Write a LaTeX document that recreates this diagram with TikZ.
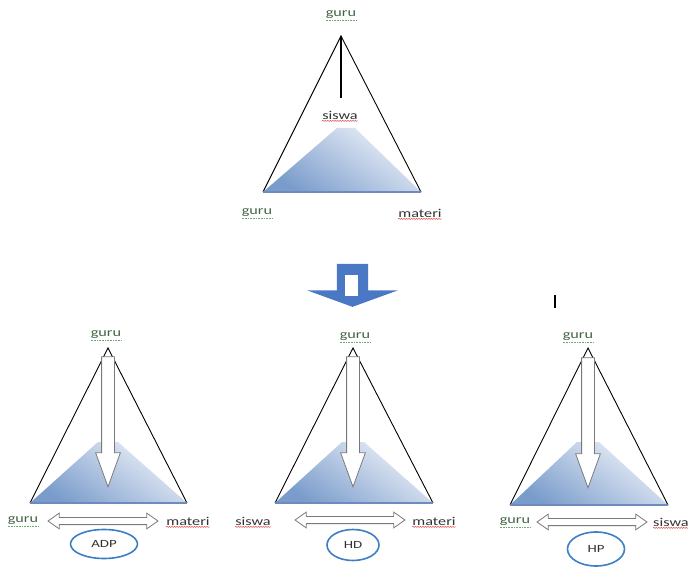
\documentclass[tikz,border=0pt]{standalone}
\usepackage{fontspec}
\usetikzlibrary{shapes.arrows,shapes.geometric,decorations.pathmorphing}
\newfontfamily\lblfont[FakeStretch=1.35]{Carlito}
\definecolor{txtgray}{HTML}{333333}
\definecolor{txtgreen}{HTML}{456546}
\definecolor{spellred}{HTML}{E05A5A}
\definecolor{spellgreen}{HTML}{6FA86F}
\definecolor{shadeblue}{HTML}{7A9CCB}
\definecolor{shadelight}{HTML}{EEF2F9}
\definecolor{baseblue}{HTML}{6D8BBC}
\definecolor{bigblue}{HTML}{4A78C4}
\definecolor{ringblue}{HTML}{3D7FC6}
\definecolor{hollowgray}{HTML}{7A7A7A}
\tikzset{
  lbl/.style={font=\lblfont\fontsize{12}{14}\selectfont, inner sep=0pt},
  gurulbl/.style={lbl, text=txtgreen},
  wordlbl/.style={lbl, text=txtgray},
  redline/.style={spellred, line width=0.6pt, decorate,
    decoration={snake, amplitude=0.5pt, segment length=2.5pt}},
  greenline/.style={spellgreen, line width=0.6pt, densely dotted},
  tri/.style={draw=black, line width=0.9pt, line join=miter},
  basebar/.style={draw=baseblue, line width=2pt},
  fade/.style={bottom color=shadeblue, top color=shadelight, shading angle=-35},
  downarrow/.style={single arrow, draw=hollowgray, fill=white, line width=0.8pt,
    rotate=-90, inner xsep=0pt, inner ysep=6pt, minimum width=24pt, minimum height=130pt,
    single arrow head extend=6pt, single arrow tip angle=40},
  twoway/.style={double arrow, draw=hollowgray, fill=white, line width=0.8pt,
    inner xsep=0pt, inner ysep=3.2pt, minimum width=15pt, minimum height=110pt,
    double arrow head extend=4.3pt, double arrow tip angle=70},
  ring/.style={ellipse, draw=ringblue, line width=1.6pt, text=txtgray,
    font=\lblfont\fontsize{11}{13}\selectfont, inner sep=0pt},
}
\begin{document}
\begin{tikzpicture}[x=1pt,y=-1pt]
\useasboundingbox (0,0) rectangle (688,569);
\fill[white] (0,0) rectangle (688,569);

% ---------- upper triangle ----------
\coordinate (tA) at (341,36);
\coordinate (tL) at (263,192);
\coordinate (tR) at (421,192);
\shade[fade] (337,128) -- (355,128) -- (tR) -- (tL) -- cycle;
\draw[tri] (tL) -- (tA) -- (tR);
\draw[basebar] (tL) -- (tR);
\node[gurulbl] (tguru) at (341,15) {guru};
\node[wordlbl] (tsiswa) at (340,115) {siswa};
\coordinate (tline) at (341,98);
\draw[black, line width=1.2pt] (tA) -- (tline);
\node[gurulbl] (tgl) at (257,213) {guru};
\node[wordlbl] (tmat) at (420,213) {materi};
\draw[greenline] ([yshift=-1.5pt]tguru.south west) -- ([yshift=-1.5pt]tguru.south east);
\draw[redline] ([yshift=-1.5pt]tsiswa.south west) -- ([yshift=-1.5pt]tsiswa.south east);
\draw[greenline] ([yshift=-1.5pt]tgl.south west) -- ([yshift=-1.5pt]tgl.south east);
\draw[redline] ([yshift=-1.5pt]tmat.south west) -- ([yshift=-1.5pt]tmat.south east);

% ---------- big blue arrow ----------
\node[single arrow, fill=bigblue, rotate=-90, inner xsep=0pt, inner ysep=15.5pt,
  minimum width=90pt, minimum height=43pt, single arrow head extend=29.5pt,
  single arrow tip angle=140] (blue) at (352.5,282.5) {};
\node[fill=white, minimum width=13pt, minimum height=21pt, inner sep=0pt] (slot) at (351.5,285.5) {};

% ---------- cursor bar ----------
\draw[black, line width=2pt] (555,295) -- (555,308);

% ---------- lower left: ADP ----------
\coordinate (aA) at (108,348);
\coordinate (aL) at (30,503);
\coordinate (aR) at (187,503);
\shade[fade] (98,442) -- (118,442) -- (aR) -- (aL) -- cycle;
\draw[tri] (aL) -- (aA) -- (aR);
\draw[basebar] (aL) -- (aR);
\node[downarrow] (adown) at (108,413) {};
\node[gurulbl] (agt) at (106,335) {guru};
\node[gurulbl] (agl) at (23,521) {guru};
\node[wordlbl] (amat) at (188,521) {materi};
\node[twoway] (abi) at (103,521) {};
\node[ring, minimum width=67pt, minimum height=29pt] (adp) at (104,544) {ADP};
\draw[greenline] ([yshift=-1.5pt]agt.south west) -- ([yshift=-1.5pt]agt.south east);
\draw[greenline] ([yshift=-1.5pt]agl.south west) -- ([yshift=-1.5pt]agl.south east);
\draw[redline] ([yshift=-1.5pt]amat.south west) -- ([yshift=-1.5pt]amat.south east);

% ---------- lower middle: HD ----------
\coordinate (hA) at (353,348);
\coordinate (hL) at (275,503);
\coordinate (hR) at (433,503);
\shade[fade] (342,442) -- (364,442) -- (hR) -- (hL) -- cycle;
\draw[tri] (hL) -- (hA) -- (hR);
\draw[basebar] (hL) -- (hR);
\node[downarrow] (hdown) at (353,413) {};
\node[gurulbl] (hgt) at (355,337) {guru};
\node[wordlbl] (hsis) at (253,521) {siswa};
\node[wordlbl] (hmat) at (434,521) {materi};
\node[twoway] (hbi) at (350,520) {};
\node[ring, minimum width=52pt, minimum height=31pt] (hd) at (353,545) {HD};
\draw[greenline] ([yshift=-1.5pt]hgt.south west) -- ([yshift=-1.5pt]hgt.south east);
\draw[redline] ([yshift=-1.5pt]hsis.south west) -- ([yshift=-1.5pt]hsis.south east);
\draw[redline] ([yshift=-1.5pt]hmat.south west) -- ([yshift=-1.5pt]hmat.south east);

% ---------- lower right: HP ----------
\coordinate (pA) at (588,348);
\coordinate (pL) at (510,505);
\coordinate (pR) at (668,505);
\shade[fade] (577,442) -- (599,442) -- (pR) -- (pL) -- cycle;
\draw[tri] (pL) -- (pA) -- (pR);
\draw[basebar] (pL) -- (pR);
\node[downarrow] (pdown) at (588,414) {};
\node[gurulbl] (pgt) at (578,337) {guru};
\node[gurulbl] (pgl) at (515,522) {guru};
\node[wordlbl, anchor=west] (psis) at (653,522) {siswa};
\node[twoway] (pbi) at (592,522) {};
\node[ring, minimum width=57pt, minimum height=34pt] (hp) at (596,549) {HP};
\draw[greenline] ([yshift=-1.5pt]pgt.south west) -- ([yshift=-1.5pt]pgt.south east);
\draw[greenline] ([yshift=-1.5pt]pgl.south west) -- ([yshift=-1.5pt]pgl.south east);
\draw[redline] ([yshift=-1.5pt]psis.south west) -- ([yshift=-1.5pt]psis.south east);
\end{tikzpicture}
\end{document}
